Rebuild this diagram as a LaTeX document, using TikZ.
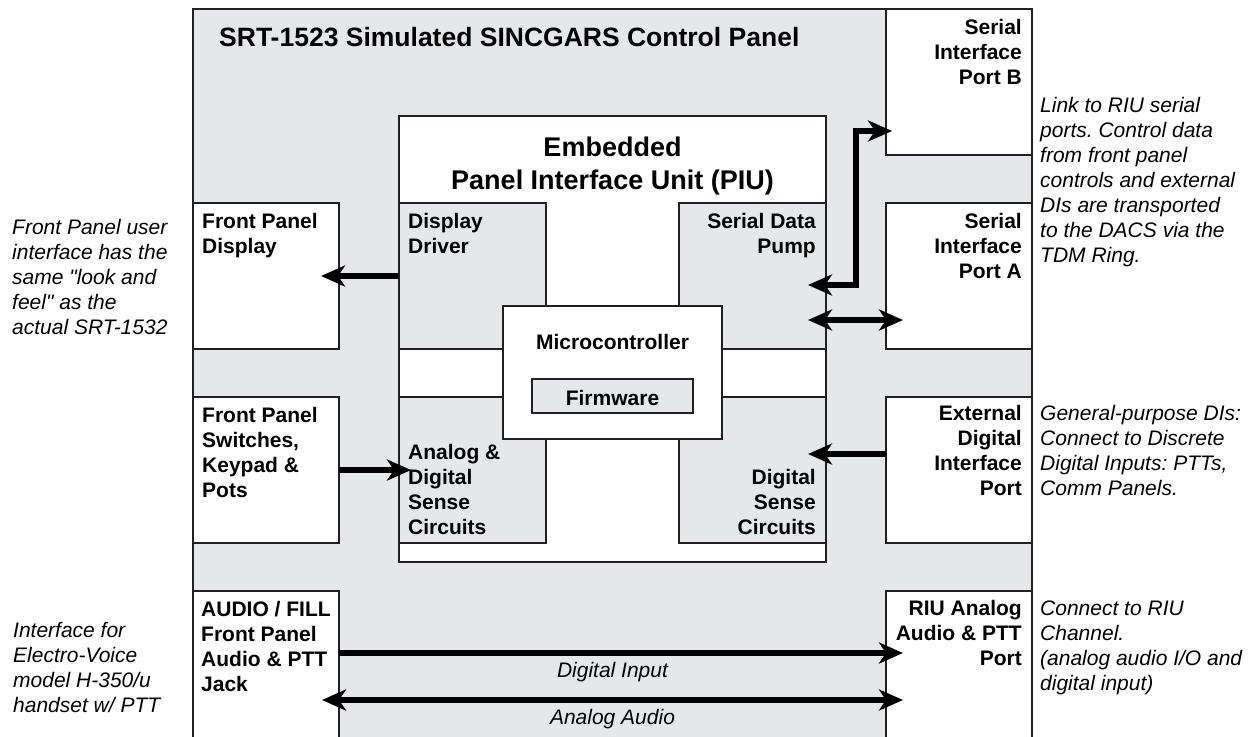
\documentclass[tikz,border=0pt]{standalone}
\usepackage{fontspec}
\setmainfont{Liberation Sans}[Ligatures=TeXOff]
\usetikzlibrary{arrows.meta,calc}
\definecolor{panelgray}{HTML}{E6E7E8}
\definecolor{linecol}{HTML}{231F20}
\tikzset{bigtip/.tip={Stealth[length=24pt,width=21pt,inset=7pt]}}
\frenchspacing
\begin{document}
\begin{tikzpicture}[x=1pt,y=-1pt,
  box/.style={draw=linecol, line width=1.4pt, inner sep=0pt, outer sep=0pt, anchor=north west},
  whitebox/.style={box, fill=white},
  graybox/.style={box, fill=panelgray},
  lbl/.style={font=\fontsize{21}{25}\selectfont\bfseries, inner sep=0pt, align=left, anchor=base west},
  rlbl/.style={font=\fontsize{21}{25}\selectfont\bfseries, inner sep=0pt, align=right, anchor=base east},
  clbl/.style={font=\fontsize{21}{25}\selectfont\bfseries, inner sep=0pt, align=center, anchor=base},
  note/.style={font=\fontsize{21}{25}\selectfont\itshape, inner sep=0pt, align=left, anchor=base west},
  alabel/.style={font=\fontsize{21}{25}\selectfont\itshape, inner sep=0pt, anchor=base},
  arr/.style={line width=5.2pt, draw=black, -{bigtip}},
  arrb/.style={line width=5.2pt, draw=black, {bigtip}-{bigtip}},
]
\useasboundingbox (0,0) rectangle (1257,736);
\fill[white] (0,0) rectangle (1257,736);

% outer panel
\node[graybox, minimum width=839pt, minimum height=745pt] (outer) at (193,9) {};

% left column
\node[whitebox, minimum width=146pt, minimum height=146pt] (fpd) at (193,203) {};
\node[whitebox, minimum width=146pt, minimum height=146pt] (fps) at (193,397) {};
\node[whitebox, minimum width=146pt, minimum height=160pt] (af) at (193,591) {};

% right column
\node[whitebox, minimum width=146pt, minimum height=146pt] (pb) at (886,9) {};
\node[whitebox, minimum width=146pt, minimum height=146pt] (pa) at (886,203) {};
\node[whitebox, minimum width=146pt, minimum height=146pt] (ext) at (886,397) {};
\node[whitebox, minimum width=146pt, minimum height=160pt] (riu) at (886,591) {};

% PIU
\node[whitebox, minimum width=427pt, minimum height=446pt] (piu) at (399,116) {};
\node[graybox, minimum width=147pt, minimum height=146pt] (dd) at (399,203) {};
\node[graybox, minimum width=147pt, minimum height=146pt] (sdp) at (679,203) {};
\node[graybox, minimum width=147pt, minimum height=146pt] (ads) at (399,397) {};
\node[graybox, minimum width=147pt, minimum height=146pt] (dsc) at (679,397) {};
\node[whitebox, minimum width=219pt, minimum height=133pt] (mcu) at (503,306) {};
\node[graybox, minimum width=161pt, minimum height=34pt] (fw) at (532,379) {};

% arrows
\draw[arr] (dd.west) -- ([xshift=-18pt]fpd.east);
\draw[arr] (fps.east) -- ([xshift=12pt]ads.west);
\draw[arr] ([yshift=16pt]ext.west) -- ([xshift=-18pt,yshift=16pt]dsc.east);
\draw[arrb] ([xshift=-18pt,yshift=-9pt]sdp.east) -- ++(48,0) |- ([xshift=6pt,yshift=-49pt]pb.west);
\draw[arrb] ([xshift=-18pt,yshift=-44pt]sdp.east) -- ([xshift=17pt,yshift=-44pt]pa.west);
\draw[arr] ([yshift=-62pt]af.north east) -- ([xshift=17pt,yshift=-62pt]riu.north west);
\draw[arrb] ([xshift=-17pt,yshift=-109pt]af.north east) -- ([xshift=17pt,yshift=-109pt]riu.north west);

% titles
\node[font=\fontsize{26.5}{33}\selectfont\bfseries, inner sep=0pt, anchor=base west] (title) at (219,46) {SRT-1523 Simulated SINCGARS Control Panel};
\node[font=\fontsize{27}{33}\selectfont\bfseries, inner sep=0pt, align=center, anchor=base] (piutitle) at (612.5,189) {Embedded\\Panel Interface Unit (PIU)};

% box labels (anchor = baseline of last line)
\node[lbl] (fpdt) at (202,253.5) {Front Panel\\Display};
\node[lbl] (fpst) at (202,497.5) {Front Panel\\Switches,\\Keypad \&\\Pots};
\node[lbl] (aft) at (201,691.5) {AUDIO / FILL\\Front Panel\\Audio \& PTT\\Jack};
\node[rlbl] (pbt) at (1022,84.5) {Serial\\Interface\\Port B};
\node[rlbl] (pat) at (1022,278.5) {Serial\\Interface\\Port A};
\node[rlbl] (extt) at (1022,495.5) {External\\Digital\\Interface\\Port};
\node[rlbl] (riut) at (1022,665.5) {RIU Analog\\Audio \& PTT\\Port};
\node[lbl] (ddt) at (408,253.5) {Display\\Driver};
\node[rlbl] (sdpt) at (816,253.5) {Serial Data\\Pump};
\node[lbl] (adst) at (408,534.5) {Analog \&\\Digital\\Sense\\Circuits};
\node[rlbl] (dsct) at (816,534.5) {Digital\\Sense\\Circuits};
\node[clbl] (mcut) at (612.5,349.5) {Microcontroller};
\node[clbl] (fwt) at (612.5,405.5) {Firmware};

% connector labels
\node[alabel] (dilbl) at (612.5,677.5) {Digital Input};
\node[alabel] (aalbl) at (612.5,724.5) {Analog Audio};

% notes
\node[note] (n1) at (12,334.5) {Front Panel user\\interface has the\\same "look and\\feel" as the\\actual SRT-1532};
\node[note] (n2) at (13,712.5) {Interface for\\Electro-Voice\\model H-350/u\\handset w/ PTT};
\node[note] (n3) at (1040,262.5) {Link to RIU serial\\ports. Control data\\from front panel\\controls and external\\DIs are transported\\to the DACS via the\\TDM Ring.};
\node[note] (n4) at (1040,495.5) {General-purpose DIs:\\Connect to Discrete\\Digital Inputs: PTTs,\\Comm Panels.};
\node[note] (n5) at (1040,690.5) {Connect to RIU\\Channel.\\(analog audio I/O and\\digital input)};
\end{tikzpicture}
\end{document}
